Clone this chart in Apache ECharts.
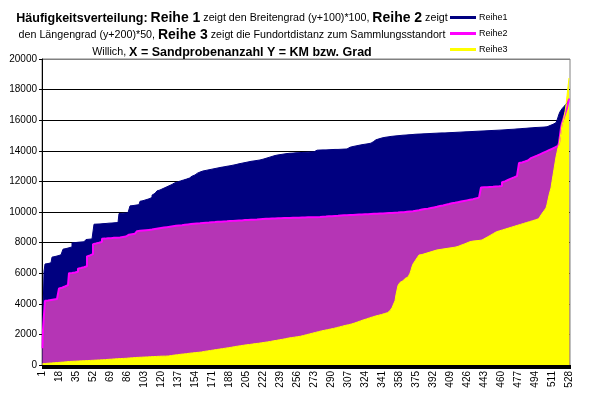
<!DOCTYPE html>
<html>
<head>
<meta charset="utf-8">
<script src="https://cdn.jsdelivr.net/npm/echarts@6/dist/echarts.min.js"></script>
<style>
  html, body { margin: 0; padding: 0; background: #fff; }
  #chart { width: 589px; height: 399px; }
</style>
</head>
<body>
<div id="chart"></div>
<script>
// Stichproben 1..528 (x-Achse)
var categories = Array.from({ length: 528 }, function (_, i) { return String(i + 1); });

// Reihe 1: Breitengrad (y+100)*100, sortiert
var reihe1 = [
  1500, 3300, 6100,
  6600, 6610, 6630, 6650, 6660, 6680, 6700,
  7050, 7070, 7090, 7110, 7130, 7140, 7160, 7180, 7200, 7220, 7250,
  7570, 7590, 7610, 7630, 7650, 7660, 7680, 7700, 7720,
  7980, 7990, 8000, 8000, 8010, 8020, 8020, 8030, 8040, 8040, 8050, 8050, 8060, 8070,
  8200, 8210, 8220, 8230, 8240, 8240, 8250, 8260,
  9200, 9200, 9210, 9210, 9220, 9220, 9230, 9230, 9240, 9240, 9250, 9250, 9260, 9260, 9270, 9270, 9280, 9280, 9290, 9290, 9300, 9300, 9310, 9310, 9320,
  9900, 9900, 9910, 9920, 9920, 9930, 9940, 9940, 9950, 9950, 9960,
  10400, 10410, 10420, 10430, 10440, 10450, 10460, 10470, 10480, 10500,
  10700, 10720, 10740, 10760, 10780, 10800, 10820, 10840, 10860, 10880, 10900, 10950,
  11100, 11160, 11220, 11280, 11330, 11380, 11410, 11440,
  11470, 11500, 11530, 11560, 11590, 11620, 11650, 11680, 11710, 11740, 11770, 11800, 11830, 11860, 11900,
  11920, 11940, 11960, 11990, 12010, 12030, 12050, 12070, 12090, 12110, 12130, 12150, 12170, 12200, 12220,
  12260, 12300, 12340, 12380, 12420, 12460, 12500, 12540, 12580, 12610,
  12640, 12660, 12680, 12700, 12710, 12720, 12740, 12750, 12760, 12780, 12790, 12800, 12820, 12830, 12840, 12860, 12870,
  12880, 12890, 12900, 12920, 12930, 12940, 12950, 12960, 12980, 12990,
  13000, 13010, 13020, 13040, 13050, 13060, 13080, 13090, 13100, 13120,
  13130, 13150, 13160, 13180, 13190, 13200, 13220, 13230, 13250, 13260,
  13270, 13290, 13300, 13310, 13320, 13330, 13340, 13350, 13360, 13370,
  13380, 13390, 13400, 13410, 13420,
  13450, 13470, 13490, 13510, 13530, 13550, 13570, 13590, 13610, 13630,
  13650, 13670, 13690, 13700, 13720, 13730, 13740, 13750, 13760, 13770,
  13780, 13790, 13800, 13810, 13820, 13820, 13830, 13840, 13840, 13850,
  13850, 13860, 13860, 13870, 13870, 13880, 13880, 13890, 13890, 13890,
  13900, 13900, 13900, 13910, 13910, 13910, 13910, 13920, 13920, 13920, 13920, 13930,
  14030, 14040, 14040, 14040, 14050, 14050, 14050, 14050, 14060, 14060,
  14060, 14060, 14070, 14070, 14070, 14070, 14080, 14080, 14080, 14080,
  14090, 14090, 14090, 14090, 14100, 14100, 14100, 14100, 14110, 14110,
  14110, 14120, 14120,
  14200, 14220, 14230, 14250, 14260, 14280, 14290, 14310, 14320, 14340, 14350, 14360, 14370, 14390, 14400, 14410, 14420, 14430, 14440, 14450, 14460, 14470, 14480, 14500, 14510,
  14560, 14600, 14640, 14680, 14720, 14750, 14780, 14800, 14820, 14840,
  14860, 14870, 14880, 14890, 14900, 14910, 14920, 14930, 14940, 14950,
  14960, 14960, 14970, 14980, 14980, 14990, 15000, 15000, 15010, 15010,
  15020, 15020, 15030, 15030, 15040, 15040, 15050, 15050, 15060, 15060,
  15070, 15070, 15080, 15080, 15090, 15090, 15100, 15100,
  15100, 15110, 15110, 15110, 15120, 15120, 15120, 15130, 15130, 15130,
  15140, 15140, 15140, 15150, 15150, 15150, 15150, 15160, 15160, 15160,
  15160, 15170, 15170, 15170, 15170, 15180, 15180, 15180, 15180, 15190,
  15190, 15190, 15200, 15200, 15200, 15210, 15210, 15210, 15220, 15220,
  15220, 15230, 15230, 15230, 15240, 15240, 15240, 15250, 15250, 15250,
  15260, 15260, 15260, 15270, 15270, 15270, 15280, 15280, 15280, 15290,
  15290, 15290,
  15300, 15300, 15310, 15310, 15310, 15320, 15320, 15320, 15330, 15330,
  15330, 15340, 15340, 15340, 15350, 15350, 15350, 15360, 15360, 15360,
  15370, 15370, 15370, 15380, 15380, 15390, 15390, 15390, 15400, 15400,
  15410, 15410, 15420, 15420, 15430, 15430, 15440, 15440, 15450, 15450,
  15460, 15460, 15470, 15470, 15480, 15480, 15490, 15490, 15500, 15500,
  15510, 15510, 15520, 15520, 15530, 15530, 15540, 15540, 15540, 15550,
  15550, 15550, 15560, 15560, 15570,
  15600, 15620, 15650, 15680, 15700, 15730, 15760, 15800, 15840, 15880,
  16000, 16200, 16400, 16550, 16670, 16750, 16820, 16900, 17000, 17050, 17100, 17200, 17400
];

// Reihe 2: Laengengrad (y+200)*50, sortiert
var reihe2 = [
  1100, 2300, 3300,
  4200, 4210, 4220, 4230, 4240, 4250, 4260, 4270, 4280, 4290, 4300, 4310, 4330, 4350,
  5000, 5020, 5050, 5080, 5100, 5130, 5160, 5190, 5220, 5250,
  6000, 6010, 6020, 6030, 6040, 6050, 6070, 6080, 6100,
  6300, 6320, 6340, 6350, 6370, 6390, 6410, 6430, 6450,
  7100, 7130, 7160, 7190, 7220, 7250,
  7900, 7920, 7940, 7950, 7970, 7990, 8000, 8020, 8050,
  8250, 8260, 8260, 8270, 8270, 8280, 8280, 8290, 8290, 8300, 8300, 8310, 8310, 8320, 8320, 8330, 8340, 8340, 8350, 8360, 8370, 8380, 8390, 8400,
  8500, 8510, 8520, 8530, 8540, 8550, 8560, 8570, 8580, 8590, 8600,
  8750, 8760, 8770, 8770, 8780, 8790, 8790, 8800, 8810, 8810, 8820, 8830, 8830, 8840, 8850,
  8870, 8880, 8890, 8900, 8910, 8920, 8930, 8940, 8950, 8960,
  8970, 8980, 8990, 9000, 9010, 9020, 9030, 9040, 9050, 9060,
  9070, 9080, 9090, 9100, 9100, 9110, 9120, 9130, 9130, 9140,
  9150,
  9160, 9170, 9170, 9180, 9190, 9190, 9200, 9210, 9210, 9220,
  9230, 9230, 9240, 9250, 9250, 9260, 9260, 9270, 9280, 9280,
  9290, 9290, 9300, 9300, 9310, 9310, 9320, 9320, 9330, 9330,
  9340, 9340, 9350, 9350,
  9360, 9360, 9370, 9370, 9370, 9380, 9380, 9390, 9390, 9390,
  9400, 9400, 9410, 9410, 9410, 9420, 9420, 9430, 9430, 9430,
  9440, 9440, 9450, 9450, 9450, 9460, 9460, 9470, 9470, 9470,
  9480, 9480, 9490, 9490, 9490, 9500, 9500, 9510, 9510, 9510,
  9520, 9520, 9530, 9530, 9540,
  9550, 9550, 9550, 9560, 9560, 9560, 9560, 9570, 9570, 9570,
  9570, 9580, 9580, 9580, 9580, 9590, 9590, 9590, 9590, 9600,
  9600, 9600, 9600, 9610, 9610, 9610, 9610, 9610, 9620, 9620,
  9620, 9620, 9620, 9630, 9630, 9630, 9630, 9630, 9640, 9640,
  9640, 9640, 9640, 9650, 9650, 9650, 9650, 9650, 9650, 9660,
  9660, 9660, 9660, 9660, 9660, 9670, 9670, 9670,
  9680, 9680, 9690, 9690, 9700, 9700, 9710, 9710, 9720, 9720,
  9730, 9730, 9730, 9740, 9740, 9750, 9750, 9750, 9760, 9760,
  9770, 9770, 9770, 9780, 9780, 9780, 9790, 9790, 9790, 9800,
  9800, 9800, 9810, 9810, 9810, 9820, 9820, 9820, 9830, 9830,
  9830, 9840, 9840, 9840, 9850, 9850, 9850, 9860, 9860, 9860,
  9870, 9870,
  9880, 9880, 9890, 9890, 9890, 9900, 9900, 9900, 9910, 9910,
  9910, 9920, 9920, 9920, 9930, 9930, 9930, 9940, 9940, 9940,
  9950, 9950, 9950, 9960, 9960, 9960, 9970, 9970, 9980, 9980,
  9990, 9990, 10000, 10000, 10010, 10010, 10020, 10030, 10030, 10040,
  10050, 10060, 10070, 10080, 10090, 10100, 10110, 10130,
  10150, 10160, 10170, 10180, 10190, 10200, 10210, 10220, 10230, 10240,
  10260, 10270, 10280, 10300, 10310, 10330, 10340, 10360, 10370, 10390,
  10400, 10420, 10430, 10450, 10460, 10480, 10490, 10510, 10520, 10540,
  10550, 10570, 10580, 10590, 10600, 10620, 10630, 10640, 10660, 10670,
  10680, 10700, 10710, 10720, 10740, 10750, 10760, 10780, 10790, 10800,
  10820, 10830, 10840, 10860, 10870, 10890, 10900, 10920, 10940, 10960,
  11000,
  11600, 11600, 11610, 11610, 11620, 11620, 11630, 11630, 11640, 11640,
  11650, 11650, 11660, 11660, 11670, 11670, 11680, 11680, 11690, 11700,
  11700,
  11950, 11980, 12000, 12030, 12060, 12090, 12120, 12150, 12180, 12200, 12230, 12260, 12290, 12320, 12350, 12380, 12400,
  13200, 13220, 13240, 13260, 13280, 13300, 13320, 13340, 13370, 13400,
  13500, 13520, 13550, 13580, 13600, 13630, 13660, 13680, 13710, 13740,
  13770, 13800, 13830, 13860, 13890, 13920, 13950, 13980, 14010, 14040,
  14070, 14100, 14130, 14160, 14190, 14220, 14250, 14290, 14330, 14380,
  14500, 15000, 15500, 15800, 16000, 16200, 16400, 16600, 16800, 17100, 17400
];

// Reihe 3: Fundortdistanz zum Sammlungsstandort Willich, sortiert
var reihe3 = [
  80, 90, 100, 100, 110, 110, 120, 120, 130, 130,
  140, 140, 150, 150, 160, 160, 170, 170, 180, 180,
  190, 190, 200, 200, 210, 210, 220,
  230, 230, 230, 240, 240, 240, 250, 250, 250, 260,
  260, 260, 270, 270, 270, 280, 280, 280, 290, 290,
  290, 300, 300, 300, 310, 310, 310, 320, 320, 320,
  330, 330, 330,
  340, 340, 350, 350, 360, 360, 370, 370, 380, 380,
  390, 390, 400, 400, 410, 410, 410, 420, 420, 420,
  430, 430, 440, 440, 440, 450, 450, 460, 460, 470,
  470, 480, 480,
  490, 490, 490, 500, 500, 500, 510, 510, 510, 520,
  520, 520, 530, 530, 530, 540, 540, 540, 550, 550,
  550, 560, 560, 560, 570, 570, 570, 580, 580, 580,
  580, 590, 590, 590,
  600, 610, 620, 630, 640, 650, 660, 660, 670, 680,
  690, 700, 700, 710, 720, 730, 740, 740, 750, 760,
  770, 770, 780, 790, 800, 800, 810, 820, 820, 830,
  840, 840, 850,
  870, 880, 890, 900, 910, 920, 930, 940, 950, 960,
  970, 980, 990, 1000, 1010, 1020, 1030, 1040, 1050, 1060,
  1070, 1080, 1090, 1100, 1110, 1120, 1130, 1140, 1150, 1160,
  1170, 1180, 1200,
  1210, 1220, 1230, 1240, 1250, 1260, 1270, 1280, 1290, 1300,
  1310, 1320, 1330, 1340, 1340, 1350, 1360, 1370, 1380, 1390,
  1400, 1410, 1420, 1420, 1430, 1440, 1450, 1460, 1470, 1480,
  1490, 1500, 1510, 1520,
  1530, 1540, 1550, 1560, 1580, 1590, 1600, 1610, 1620, 1640,
  1650, 1660, 1670, 1680, 1700, 1710, 1720, 1730, 1740, 1760,
  1770, 1780, 1790, 1800, 1810, 1820, 1830, 1840, 1850, 1860,
  1870, 1880, 1900,
  1920, 1930, 1950, 1960, 1980, 2000, 2010, 2030, 2050, 2060, 2080, 2090, 2110, 2130, 2140, 2160, 2180,
  2200, 2210, 2230, 2240, 2260, 2270, 2290, 2300, 2310, 2320, 2340, 2350, 2360, 2370, 2390, 2400,
  2420, 2440, 2450, 2470, 2490, 2500, 2520, 2540, 2550, 2570, 2590, 2600, 2620, 2630, 2650, 2660, 2680,
  2700, 2720, 2740, 2760, 2790, 2810, 2830, 2850, 2880, 2900, 2920, 2950, 2970, 2990, 3010, 3040, 3070,
  3080, 3100, 3120, 3140, 3160, 3180, 3200, 3210, 3230, 3250, 3270, 3290, 3300, 3320, 3340, 3360, 3380, 3400, 3420, 3450, 3480,
  3550, 3650, 3750, 3900, 4050, 4200,
  4600, 4900, 5200, 5300,
  5400, 5450, 5500, 5550, 5600, 5650, 5700, 5750, 5800, 5880,
  6000, 6200, 6430,
  6600, 6700, 6800, 6900, 7000, 7100, 7190,
  7200, 7220, 7240, 7260, 7280, 7300, 7320, 7340, 7360, 7380, 7400, 7420, 7440, 7460, 7480, 7500, 7520,
  7530, 7540, 7550, 7560, 7570, 7580, 7590, 7600, 7610, 7620, 7630, 7640, 7650, 7660, 7670, 7680, 7690, 7700, 7710, 7730,
  7750, 7780, 7800, 7830, 7850, 7880, 7900, 7930, 7950, 7980, 8000, 8030, 8060,
  8080, 8090, 8100, 8110, 8110, 8120, 8130, 8140, 8140, 8150, 8160, 8170,
  8200, 8240, 8280, 8310, 8350, 8390, 8420, 8460, 8500, 8530, 8570, 8600, 8640, 8680, 8710,
  8730, 8750, 8770, 8790, 8810, 8830, 8850, 8870, 8890, 8910, 8930, 8950, 8970, 8990, 9010, 9040,
  9050, 9070, 9090, 9110, 9130, 9150, 9170, 9190, 9210, 9230,
  9250, 9270, 9290, 9310, 9330, 9350, 9370, 9390, 9410, 9430,
  9450, 9470, 9490, 9510, 9530, 9560, 9590,
  9700, 9800, 9900, 10000, 10080, 10170, 10260,
  10500, 10800, 11100, 11350, 11570,
  12000, 12400, 12800, 13200, 13600, 13900, 14200, 14380,
  14800, 15200, 15690, 15900, 16200, 16560, 17000, 17600, 18200, 18760
];

var yTicks = [0, 2000, 4000, 6000, 8000, 10000, 12000, 14000, 16000, 18000, 20000];

var myChart = echarts.init(document.getElementById('chart'), null, { renderer: 'canvas' });

var gridColors = yTicks.map(function (v) { return v === 20000 ? '#808080' : '#000000'; });

var option = {
  animation: false,
  backgroundColor: '#ffffff',
  title: {
    left: 227,
    top: 5,
    textAlign: 'center',
    text: '{b|Häufigkeitsverteilung:} {r|Reihe 1} {n|zeigt den Breitengrad (y+100)*100,} {r|Reihe 2} {n|zeigt}\n' +
          '{n|den Längengrad (y+200)*50,} {r|Reihe 3} {n|zeigt die Fundortdistanz zum Sammlungsstandort}\n' +
          '{n|Willich,} {b|X = Sandprobenanzahl Y = KM bzw. Grad}',
    textStyle: {
      fontFamily: 'Liberation Sans, Arial',
      fontWeight: 'normal',
      fontSize: 10.7,
      lineHeight: 17,
      color: '#000',
      rich: {
        b: { fontFamily: 'Liberation Sans, Arial', fontWeight: 'bold', fontSize: 12.5, lineHeight: 17, color: '#000' },
        r: { fontFamily: 'Liberation Sans, Arial', fontWeight: 'bold', fontSize: 14, lineHeight: 17, color: '#000' },
        n: { fontFamily: 'Liberation Sans, Arial', fontWeight: 'normal', fontSize: 10.7, lineHeight: 17, color: '#000' }
      }
    }
  },
  legend: {
    orient: 'vertical',
    left: 445,
    top: 7,
    itemWidth: 26,
    itemHeight: 3,
    itemGap: 5,
    icon: 'rect',
    data: ['Reihe1', 'Reihe2', 'Reihe3'],
    textStyle: { fontFamily: 'Liberation Sans, Arial', fontSize: 9, lineHeight: 11, color: '#000', padding: [0, 0, 0, -2] }
  },
  grid: {
    left: 42,
    right: 19,
    top: 59,
    bottom: 34,
    show: true,
    borderColor: '#808080',
    borderWidth: 1
  },
  xAxis: {
    type: 'category',
    data: categories,
    boundaryGap: true,
    axisLine: { lineStyle: { color: '#000', width: 1 } },
    axisTick: { show: true, interval: 0, length: 4, lineStyle: { color: '#000' } },
    axisLabel: {
      interval: 16,
      rotate: 90,
      margin: 6,
      fontFamily: 'Liberation Sans, Arial',
      fontSize: 10,
      color: '#000'
    },
    splitLine: { show: false }
  },
  yAxis: {
    type: 'value',
    min: 0,
    max: 20000,
    interval: 2000,
    axisLine: { show: true, lineStyle: { color: '#000', width: 1 } },
    axisTick: { show: true, length: 3, lineStyle: { color: '#000' } },
    axisLabel: {
      margin: 5,
      fontFamily: 'Liberation Sans, Arial',
      fontSize: 10,
      color: '#000',
      formatter: function (v) { return String(v); }
    },
    splitLine: { show: true, lineStyle: { color: gridColors, width: 1 } }
  },
  series: [
    {
      name: 'Reihe1',
      type: 'line',
      data: reihe1,
      step: 'middle',
      symbol: 'none',
      lineStyle: { color: '#000080', width: 1 },
      itemStyle: { color: '#000080' },
      areaStyle: { color: '#000080', opacity: 1 }
    },
    {
      name: 'Reihe2',
      type: 'line',
      data: reihe2,
      step: 'middle',
      symbol: 'none',
      lineStyle: { color: '#FF00FF', width: 2 },
      itemStyle: { color: '#FF00FF' },
      areaStyle: { color: '#B535B5', opacity: 1 }
    },
    {
      name: 'Reihe3',
      type: 'line',
      data: reihe3,
      step: 'middle',
      symbol: 'none',
      lineStyle: { color: '#FFFF00', width: 1 },
      itemStyle: { color: '#FFFF00' },
      areaStyle: { color: '#FFFF00', opacity: 1 }
    }
  ]
};

myChart.setOption(option);
</script>
</body>
</html>
